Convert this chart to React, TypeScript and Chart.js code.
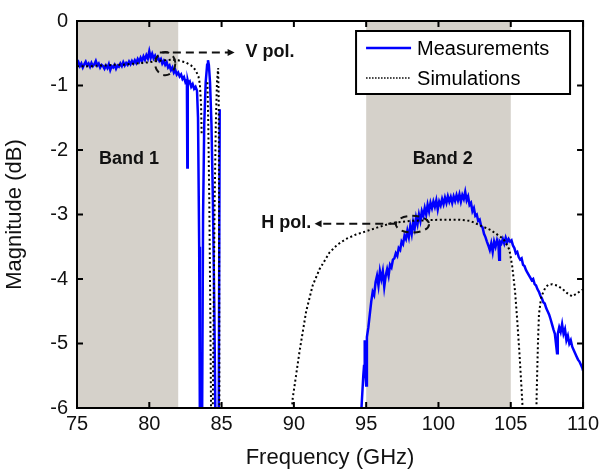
import React, { useEffect, useRef } from "react";
import { Chart, registerables } from "chart.js";
Chart.register(...registerables);

const FONT = "'Liberation Sans', Arial, Helvetica, sans-serif";
const BAND_COLOR = "#d5d1ca";

// Axis ranges / ticks
const xRange = [75, 110];
const yRange = [-6, 0];
const xTickValues = [75, 80, 85, 90, 95, 100, 105, 110];
const yTickValues = [0, -1, -2, -3, -4, -5, -6];

// Shaded bands [start, end] GHz
const bands: [number, number][] = [
  [75, 82],
  [95, 105],
];

// Measurements [GHz, dB]
const measBand1: [number, number | null][] = [
  [75.0,-0.68],[75.1,-0.64],[75.2,-0.70],[75.3,-0.66],[75.4,-0.72],[75.5,-0.67],[75.6,-0.63],[75.7,-0.69],[75.8,-0.66],[75.9,-0.71],
  [76.0,-0.65],[76.1,-0.70],[76.2,-0.67],[76.3,-0.62],[76.4,-0.69],[76.5,-0.66],[76.6,-0.72],[76.7,-0.68],[76.8,-0.70],[76.9,-0.74],
  [77.0,-0.69],[77.1,-0.73],[77.2,-0.67],[77.3,-0.76],[77.4,-0.70],[77.5,-0.72],[77.6,-0.68],[77.7,-0.74],[77.8,-0.69],[77.9,-0.71],
  [78.0,-0.66],[78.1,-0.70],[78.2,-0.64],[78.3,-0.69],[78.4,-0.65],[78.5,-0.68],[78.6,-0.63],[78.7,-0.67],[78.8,-0.62],[78.9,-0.66],
  [79.0,-0.61],[79.1,-0.65],[79.2,-0.59],[79.3,-0.63],[79.4,-0.57],[79.5,-0.62],[79.6,-0.55],[79.7,-0.60],[79.8,-0.53],[79.9,-0.58],
  [80.0,-0.47],[80.1,-0.57],[80.2,-0.51],[80.3,-0.58],[80.4,-0.54],[80.5,-0.60],[80.6,-0.56],[80.7,-0.62],[80.8,-0.59],[80.9,-0.66],
  [81.0,-0.62],[81.1,-0.68],[81.2,-0.64],[81.3,-0.72],[81.4,-0.69],[81.5,-0.76],[81.6,-0.72],[81.7,-0.80],[81.8,-0.76],[81.9,-0.83],
  [82.0,-0.80],[82.1,-0.86],[82.2,-0.83],[82.3,-0.90],[82.4,-0.87],[82.5,-0.95],[82.6,-0.92],[82.63,-2.27],[82.66,-0.93],[82.7,-0.97],
  [82.8,-0.94],[82.9,-1.02],[83.0,-0.98],[83.1,-1.05],[83.2,-1.02],[83.3,-1.08],[83.37,-1.5],[83.45,-3.5],[83.5,-6.3],[83.65,-6.3],
  [83.72,-3.0],[83.8,-1.6],[83.9,-0.95],[84.0,-0.68],[84.06,-0.61],[84.12,-0.68],[84.2,-0.95],[84.3,-1.6],[84.4,-2.8],[84.5,-4.5],
  [84.58,-6.3],[84.7,null],[84.8,-6.3],[84.87,-1.37],[90.0,null],
];

const measBand2: [number, number | null][] = [
  [94.6,-6.3],[94.7,-5.9],[94.8,-5.5],[94.85,-5.35],[94.9,-4.95],[94.95,-5.45],[95.0,-5.65],[95.05,-4.9],[95.15,-4.75],[95.25,-4.55],
  [95.35,-4.35],[95.45,-4.2],[95.55,-4.25],[95.65,-4.05],[95.75,-3.95],[95.85,-4.1],[95.95,-3.88],[96.05,-4.0],[96.15,-3.88],[96.25,-4.12],
  [96.35,-3.95],[96.45,-3.85],[96.55,-3.95],[96.65,-3.78],[96.75,-3.82],[96.85,-3.7],[96.95,-3.68],[97.05,-3.6],[97.15,-3.64],[97.25,-3.52],
  [97.35,-3.55],[97.45,-3.42],[97.55,-3.46],[97.65,-3.33],[97.75,-3.38],[97.85,-3.25],[97.95,-3.35],[98.05,-3.18],[98.15,-3.3],[98.25,-3.12],
  [98.35,-3.22],[98.45,-3.05],[98.55,-3.15],[98.65,-3.0],[98.75,-3.1],[98.85,-2.95],[98.95,-3.02],[99.05,-2.9],[99.15,-3.0],[99.25,-2.85],
  [99.35,-2.95],[99.45,-2.82],[99.55,-2.9],[99.65,-2.8],[99.75,-2.88],[99.85,-2.78],[99.95,-2.92],[100.05,-2.8],[100.15,-2.86],[100.25,-2.76],
  [100.35,-2.84],[100.45,-2.74],[100.55,-2.82],[100.65,-2.72],[100.75,-2.8],[100.85,-2.73],[100.95,-2.82],[101.05,-2.72],[101.15,-2.79],[101.25,-2.7],
  [101.35,-2.78],[101.45,-2.69],[101.55,-2.8],[101.65,-2.7],[101.75,-2.76],[101.85,-2.65],[101.95,-2.78],[102.05,-2.72],[102.15,-2.85],[102.25,-2.82],
  [102.35,-2.95],[102.45,-2.9],[102.55,-3.02],[102.65,-3.0],[102.75,-3.1],[102.85,-3.08],[102.95,-3.18],[103.05,-3.2],[103.15,-3.3],[103.25,-3.35],
  [103.35,-3.42],[103.45,-3.48],[103.55,-3.55],[103.65,-3.45],[103.75,-3.58],[103.85,-3.42],[103.95,-3.5],[104.05,-3.4],[104.15,-3.48],[104.2,-3.7],
  [104.25,-3.42],[104.35,-3.45],[104.45,-3.38],[104.55,-3.45],[104.65,-3.36],[104.75,-3.43],[104.85,-3.38],[104.95,-3.42],[105.05,-3.4],[105.15,-3.48],
  [105.25,-3.52],[105.35,-3.6],[105.45,-3.58],[105.55,-3.66],[105.65,-3.7],[105.75,-3.68],[105.85,-3.78],[105.95,-3.8],[106.05,-3.86],[106.15,-3.9],
  [106.25,-3.94],[106.35,-3.98],[106.45,-4.02],[106.55,-4.0],[106.65,-4.08],[106.75,-4.1],[106.85,-4.16],[106.95,-4.2],[107.05,-4.26],[107.15,-4.3],
  [107.25,-4.36],[107.35,-4.38],[107.45,-4.45],[107.55,-4.5],[107.65,-4.55],[107.75,-4.62],[107.85,-4.7],[107.95,-4.78],[108.05,-4.85],[108.15,-5.05],
  [108.2,-5.15],[108.25,-4.85],[108.35,-4.75],[108.45,-4.82],[108.55,-4.7],[108.65,-4.85],[108.75,-4.78],[108.85,-4.95],[108.95,-4.88],[109.05,-5.0],
  [109.15,-4.95],[109.25,-5.05],[109.35,-5.1],[109.45,-5.15],[109.55,-5.2],[109.65,-5.25],[109.75,-5.28],[109.85,-5.33],[109.95,-5.38],[110.0,-5.42],
];

// Simulations [GHz, dB]
const simVpol: [number, number | null][] = [
  [75,-0.70],[75.5,-0.70],[76,-0.70],[76.5,-0.69],[77,-0.69],[77.5,-0.68],[78,-0.68],[78.5,-0.67],[79,-0.66],[79.5,-0.65],
  [80,-0.64],[80.5,-0.62],[81,-0.61],[81.5,-0.60],[82,-0.61],[82.5,-0.64],[82.9,-0.69],[83.2,-0.76],[83.4,-0.86],[83.5,-0.98],
  [83.58,-1.3],[83.62,-1.75],[83.8,null],[84.02,-0.95],[84.08,-1.6],[84.15,-2.8],[84.22,-4.5],[84.28,-6.3],[84.33,null],
  [84.38,-6.3],[84.45,-4.5],[84.52,-2.8],[84.6,-1.6],[84.68,-0.95],[84.76,-0.73],[84.8,-1.2],[84.82,-2.5],[84.84,-4.5],[84.85,-6.3],
  [87,null],
];

const simHpol: [number, number | null][] = [
  [89.85,-6.3],[89.9,-5.88],[90.4,-5.11],[90.85,-4.5],[91.3,-4.1],[91.77,-3.85],[92.46,-3.59],[93.0,-3.47],[93.6,-3.38],[94.3,-3.31],
  [95,-3.26],[95.8,-3.2],[96.8,-3.13],[98,-3.1],[99.1,-3.09],[100.2,-3.08],[101.4,-3.08],[102.2,-3.1],[103,-3.18],[103.6,-3.24],
  [104,-3.3],[104.5,-3.38],[104.9,-3.54],[105.1,-3.8],[105.3,-4.2],[105.45,-4.65],[105.6,-5.15],[105.72,-5.6],[105.82,-6.0],[105.88,-6.3],
  [106.3,null],[106.75,-6.3],[106.8,-5.7],[106.88,-5.0],[106.95,-4.55],[107.1,-4.28],[107.4,-4.13],[107.6,-4.09],[107.87,-4.08],[108.2,-4.1],
  [108.56,-4.15],[108.9,-4.22],[109.25,-4.27],[109.6,-4.22],[110,-4.16],
];

const legendLabels = ["Measurements", "Simulations"];

// Annotations in data coordinates
const bandLabels = [
  { text: "Band 1", x: 78.6, y: -2.14 },
  { text: "Band 2", x: 100.3, y: -2.14 },
];
const polLabels = [
  { text: "V pol.", x: 86.66, y: -0.48, align: "left" as CanvasTextAlign },
  { text: "H pol.", x: 91.2, y: -3.14, align: "right" as CanvasTextAlign },
];
const polArrows = [
  { from: [80.73, -0.49], to: [85.9, -0.49] },
  { from: [97.08, -3.145], to: [91.43, -3.145] },
];
const polEllipses = [
  { cx: 81.1, cy: -0.66, rx: 0.7, ry: 0.18 },
  { cx: 98.2, cy: -3.15, rx: 1.15, ry: 0.13 },
];

const toPts = (arr: [number, number | null][]) => arr.map(([x, y]) => ({ x, y }));

const decorPlugin = {
  id: "decor",
  beforeDatasetsDraw(chart: any) {
    const { ctx, chartArea: a, scales } = chart;
    const xs = scales.x;
    ctx.save();
    ctx.fillStyle = BAND_COLOR;
    for (const [f0, f1] of bands) {
      const x0 = xs.getPixelForValue(f0);
      const x1 = xs.getPixelForValue(f1);
      ctx.fillRect(x0, a.top, x1 - x0, a.bottom - a.top);
    }
    ctx.restore();
  },
  afterDatasetsDraw(chart: any) {
    const { ctx, chartArea: a, scales } = chart;
    const xs = scales.x;
    const ys = scales.y;
    const px = (v: number) => xs.getPixelForValue(v);
    const py = (v: number) => ys.getPixelForValue(v);
    ctx.save();

    // inward ticks
    ctx.strokeStyle = "#000";
    ctx.lineWidth = 2;
    const tl = 6;
    ctx.beginPath();
    for (const v of xTickValues) {
      const x = px(v);
      ctx.moveTo(x, a.bottom);
      ctx.lineTo(x, a.bottom - tl);
      ctx.moveTo(x, a.top);
      ctx.lineTo(x, a.top + tl);
    }
    for (const v of yTickValues) {
      const y = py(v);
      ctx.moveTo(a.left, y);
      ctx.lineTo(a.left + tl, y);
      ctx.moveTo(a.right, y);
      ctx.lineTo(a.right - tl, y);
    }
    ctx.stroke();

    // frame
    ctx.lineWidth = 2;
    ctx.strokeRect(a.left, a.top, a.right - a.left, a.bottom - a.top);

    // band labels
    ctx.fillStyle = "#111";
    ctx.font = `bold 18px ${FONT}`;
    ctx.textBaseline = "middle";
    ctx.textAlign = "center";
    for (const b of bandLabels) ctx.fillText(b.text, px(b.x), py(b.y));
    for (const p of polLabels) {
      ctx.textAlign = p.align;
      ctx.fillText(p.text, px(p.x), py(p.y));
    }

    // arrows
    ctx.strokeStyle = "#111";
    ctx.lineWidth = 2;
    for (const ar of polArrows) {
      const x0 = px(ar.from[0]), y0 = py(ar.from[1]);
      const x1 = px(ar.to[0]), y1 = py(ar.to[1]);
      const dir = Math.sign(x1 - x0);
      ctx.setLineDash([8, 5]);
      ctx.beginPath();
      ctx.moveTo(x0, y0);
      ctx.lineTo(x1 - dir * 6, y1);
      ctx.stroke();
      ctx.setLineDash([]);
      ctx.beginPath();
      ctx.moveTo(x1, y1);
      ctx.lineTo(x1 - dir * 7, y1 - 3.5);
      ctx.lineTo(x1 - dir * 7, y1 + 3.5);
      ctx.closePath();
      ctx.fillStyle = "#111";
      ctx.fill();
    }

    // ellipses
    ctx.setLineDash([7, 5]);
    for (const e of polEllipses) {
      const cx = px(e.cx), cy = py(e.cy);
      const rx = Math.abs(px(e.cx + e.rx) - cx);
      const ry = Math.abs(py(e.cy + e.ry) - cy);
      ctx.beginPath();
      ctx.ellipse(cx, cy, rx, ry, 0, 0, Math.PI * 2);
      ctx.stroke();
    }
    ctx.setLineDash([]);

    // legend
    const lw = 214, lh = 63;
    const lx = a.right - 13 - lw;
    const ly = a.top + 10;
    ctx.fillStyle = "#fff";
    ctx.fillRect(lx, ly, lw, lh);
    ctx.strokeStyle = "#000";
    ctx.lineWidth = 2;
    ctx.strokeRect(lx, ly, lw, lh);
    ctx.font = `20px ${FONT}`;
    ctx.textAlign = "left";
    ctx.textBaseline = "middle";
    ctx.fillStyle = "#000";
    const r1 = ly + 17, r2 = ly + 47;
    ctx.strokeStyle = "#0000ff";
    ctx.lineWidth = 2.5;
    ctx.beginPath();
    ctx.moveTo(lx + 10, r1);
    ctx.lineTo(lx + 55, r1);
    ctx.stroke();
    ctx.strokeStyle = "#000";
    ctx.lineWidth = 1.5;
    ctx.setLineDash([1.5, 1.5]);
    ctx.beginPath();
    ctx.moveTo(lx + 10, r2);
    ctx.lineTo(lx + 55, r2);
    ctx.stroke();
    ctx.setLineDash([]);
    ctx.fillText(legendLabels[0], lx + 61, r1 + 1);
    ctx.fillText(legendLabels[1], lx + 61, r2 + 1);

    ctx.restore();
  },
};

export default function App() {
  const ref = useRef<HTMLCanvasElement | null>(null);
  useEffect(() => {
    document.body.style.margin = "0";
    if (!ref.current) return;
    const chart = new Chart(ref.current, {
      type: "line",
      data: {
        datasets: [
          {
            label: legendLabels[1],
            data: toPts([...simVpol, ...simHpol]),
            borderColor: "#000",
            borderWidth: 2,
            borderDash: [2, 2.6],
            pointRadius: 0,
            spanGaps: false,
            clip: 0,
            tension: 0,
          } as any,
          {
            label: legendLabels[0],
            data: toPts([...measBand1, ...measBand2]),
            borderColor: "#0000ff",
            borderWidth: 2.5,
            pointRadius: 0,
            spanGaps: false,
            clip: 0,
            tension: 0,
          } as any,
        ],
      },
      options: {
        animation: false,
        responsive: false,
        devicePixelRatio: 1,
        layout: { padding: { left: 0, right: 19, top: 15, bottom: 0 } },
        plugins: { legend: { display: false }, tooltip: { enabled: false } },
        scales: {
          x: {
            type: "linear",
            min: xRange[0],
            max: xRange[1],
            grid: { display: false, drawTicks: false },
            border: { display: false },
            ticks: {
              stepSize: 5,
              padding: 4,
              color: "#111",
              font: { family: FONT, size: 20 },
              maxRotation: 0,
            },
            title: {
              display: true,
              text: "Frequency (GHz)",
              color: "#111",
              font: { family: FONT, size: 22, lineHeight: 1.2 },
              padding: { top: 0, bottom: 1 },
            },
            afterFit: (s: any) => {
              s.height = 64;
            },
          },
          y: {
            type: "linear",
            min: yRange[0],
            max: yRange[1],
            grid: { display: false, drawTicks: false },
            border: { display: false },
            ticks: {
              stepSize: 1,
              padding: 9,
              color: "#111",
              font: { family: FONT, size: 20 },
            },
            title: {
              display: true,
              text: "Magnitude (dB)",
              color: "#111",
              font: { family: FONT, size: 22, lineHeight: 1.2 },
              padding: { top: 2, bottom: 0 },
            },
            afterFit: (s: any) => {
              s.width = 77;
            },
          },
        },
      } as any,
      plugins: [decorPlugin],
    });
    return () => chart.destroy();
  }, []);
  return (
    <div style={{ width: 603, height: 472 }}>
      <canvas ref={ref} width={603} height={472} style={{ display: "block" }} />
    </div>
  );
}
